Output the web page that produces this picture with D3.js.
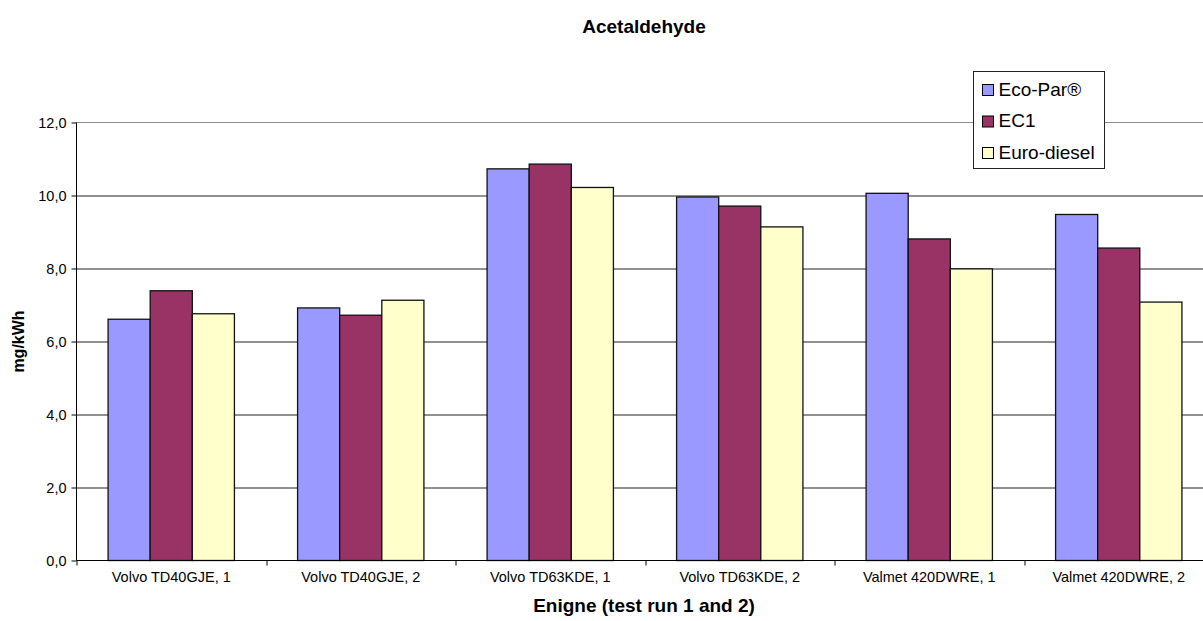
<!DOCTYPE html>
<html>
<head>
<meta charset="utf-8">
<script src="https://cdn.jsdelivr.net/npm/d3@7"></script>
<style>
  body { margin: 0; background: #fff; }
  text { font-family: "Liberation Sans", Arial, sans-serif; }
</style>
</head>
<body>
<script>
// Chart data
var engines = ["Volvo TD40GJE, 1", "Volvo TD40GJE, 2", "Volvo TD63KDE, 1",
               "Volvo TD63KDE, 2", "Valmet 420DWRE, 1", "Valmet 420DWRE, 2"];
var fuels = ["Eco-Par®", "EC1", "Euro-diesel"];
var ecoPar = [6.61, 6.92, 10.73, 9.96, 10.06, 9.48];
var ec1 = [7.39, 6.72, 10.86, 9.71, 8.81, 8.56];
var euroDiesel = [6.76, 7.13, 10.22, 9.14, 7.99, 7.08];
var yTicks = [0, 2, 4, 6, 8, 10, 12];
var colors = ["#9999ff", "#993366", "#ffffcc"];

var seriesValues = [ecoPar, ec1, euroDiesel];

var width = 1203, height = 621;
var margin = {top: 122.5, right: -10.5, bottom: 60.5, left: 76.5};
var innerW = width - margin.left - margin.right,
    innerH = height - margin.top - margin.bottom;

var svg = d3.select("body").append("svg")
    .attr("width", width)
    .attr("height", height);

var g = svg.append("g")
    .attr("transform", "translate(" + margin.left + "," + margin.top + ")");

// Scales
var x0 = d3.scaleBand()
    .domain(engines)
    .range([0, innerW])
    .paddingInner(0)
    .paddingOuter(0);

var x1 = d3.scaleBand()
    .domain(fuels)
    .range([x0.bandwidth() / 6, x0.bandwidth() * 5 / 6]);

var y = d3.scaleLinear()
    .domain([0, 12])
    .range([innerH, 0]);

// Plot border (top) and gridlines
g.append("line")
    .attr("x1", 0).attr("x2", innerW)
    .attr("y1", 0).attr("y2", 0)
    .attr("stroke", "#8c8c8c");

g.selectAll(".grid")
    .data(yTicks.filter(function(d) { return d > 0 && d < 12; }))
    .enter().append("line")
    .attr("class", "grid")
    .attr("x1", 0).attr("x2", innerW)
    .attr("y1", function(d) { return Math.round(y(d)) + 0.5; })
    .attr("y2", function(d) { return Math.round(y(d)) + 0.5; })
    .attr("stroke", "#222");

// Bars
var rows = engines.map(function(e, i) {
  return fuels.map(function(f, j) {
    return {engine: e, fuel: f, value: seriesValues[j][i], color: colors[j]};
  });
});

var groups = g.selectAll(".group")
    .data(rows)
    .enter().append("g")
    .attr("class", "group")
    .attr("transform", function(d, i) { return "translate(" + x0(engines[i]) + ",0)"; });

groups.selectAll("rect")
    .data(function(d) { return d; })
    .enter().append("rect")
    .attr("x", function(d) { return x1(d.fuel); })
    .attr("y", function(d) { return y(d.value); })
    .attr("width", x1.bandwidth())
    .attr("height", function(d) { return innerH - y(d.value); })
    .attr("fill", function(d) { return d.color; })
    .attr("stroke", "#111")
    .attr("stroke-width", 1.3);

// Axes
var yAxis = d3.axisLeft(y)
    .tickValues(yTicks)
    .tickSize(5)
    .tickFormat(function(d) { return d3.format(".1f")(d).replace(".", ","); });

var ya = g.append("g").call(yAxis);
ya.select(".domain").attr("stroke", "#000").attr("d", "M0,0V" + innerH);
ya.selectAll(".tick line").attr("stroke", "#000");
ya.selectAll(".tick text")
    .attr("x", -10)
    .style("font-size", "14.5px")
    .attr("fill", "#000");

var xa = g.append("g")
    .attr("transform", "translate(0," + innerH + ")");

xa.append("line")
    .attr("x1", 0).attr("x2", innerW)
    .attr("stroke", "#000");

xa.selectAll(".xtick")
    .data(engines.concat(["end"]))
    .enter().append("line")
    .attr("class", "xtick")
    .attr("x1", function(d, i) { return Math.round(i * x0.step()) + 0.5; })
    .attr("x2", function(d, i) { return Math.round(i * x0.step()) + 0.5; })
    .attr("y1", 0).attr("y2", 5)
    .attr("stroke", "#000");

xa.selectAll(".xlabel")
    .data(engines)
    .enter().append("text")
    .attr("class", "xlabel")
    .attr("x", function(d) { return x0(d) + x0.bandwidth() / 2; })
    .attr("y", 21.5)
    .attr("text-anchor", "middle")
    .style("font-size", "14.5px")
    .text(function(d) { return d; });

// Titles
svg.append("text")
    .attr("x", 644)
    .attr("y", 33)
    .attr("text-anchor", "middle")
    .style("font-size", "19px")
    .style("font-weight", "bold")
    .text("Acetaldehyde");

svg.append("text")
    .attr("x", 644)
    .attr("y", 612)
    .attr("text-anchor", "middle")
    .style("font-size", "19px")
    .style("font-weight", "bold")
    .text("Enigne (test run 1 and 2)");

svg.append("text")
    .attr("transform", "translate(24," + (margin.top + innerH / 2) + ") rotate(-90)")
    .attr("text-anchor", "middle")
    .style("font-size", "16px")
    .style("font-weight", "bold")
    .text("mg/kWh");

// Legend
var legend = svg.append("g")
    .attr("transform", "translate(973.5,71.5)");

legend.append("rect")
    .attr("width", 131)
    .attr("height", 97)
    .attr("fill", "#fff")
    .attr("stroke", "#222");

var items = legend.selectAll(".item")
    .data(fuels)
    .enter().append("g")
    .attr("class", "item")
    .attr("transform", function(d, i) { return "translate(9," + (13 + i * 31.5) + ")"; });

items.append("rect")
    .attr("width", 11)
    .attr("height", 11)
    .attr("fill", function(d, i) { return colors[i]; })
    .attr("stroke", "#000");

items.append("text")
    .attr("x", 16)
    .attr("y", 11)
    .style("font-size", "19px")
    .text(function(d) { return d; });
</script>
</body>
</html>
